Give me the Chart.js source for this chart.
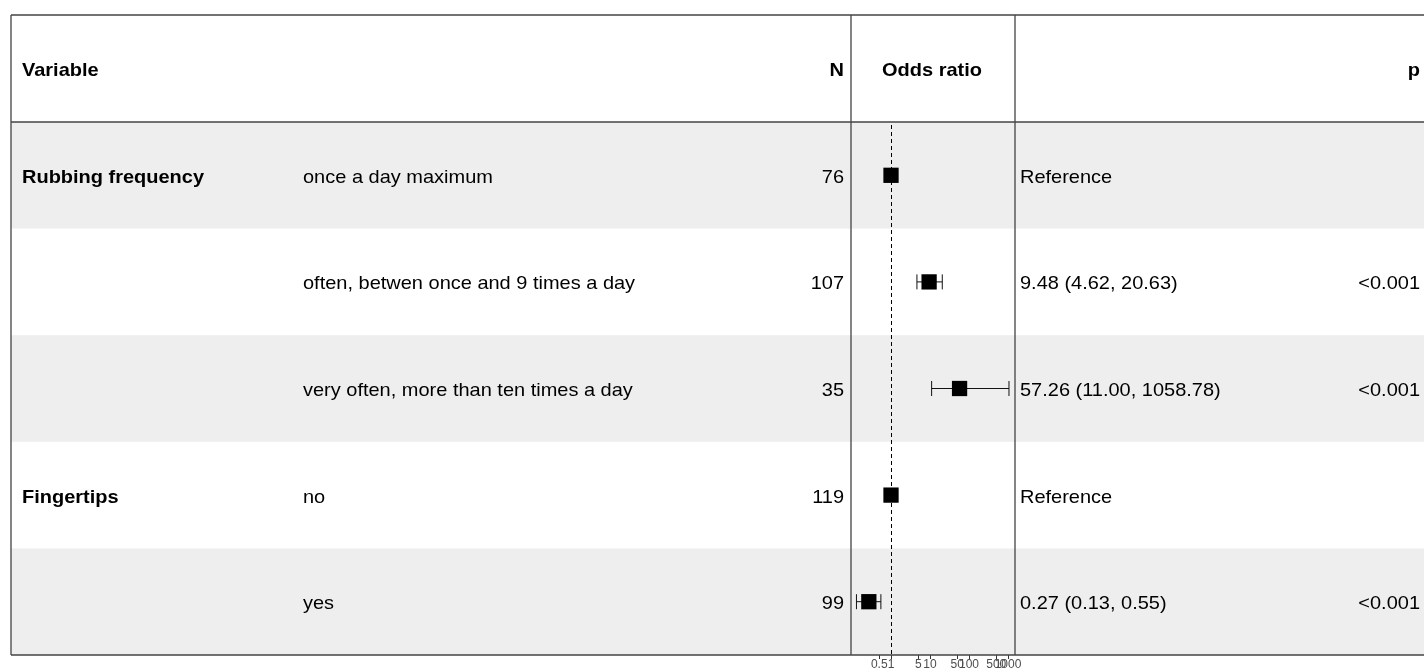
<!doctype html>
<html>
<head>
	<title>Odds ratio table</title>
	<script src="https://cdn.jsdelivr.net/npm/chart.js@4.4.1/dist/chart.umd.min.js"></script>
	<style>
		body { margin: 0; background: #fff; }
		canvas { display: block; }
	</style>
</head>
<body>
	<canvas id="canvas" width="1424" height="671"></canvas>
	<script>
		// table rows
		var variables = ['Rubbing frequency', '', '', 'Fingertips', ''];
		var levels = ['once a day maximum', 'often, betwen once and 9 times a day', 'very often, more than ten times a day', 'no', 'yes'];
		var counts = [76, 107, 35, 119, 99];
		var oddsRatio = [1, 9.48, 57.26, 1, 0.27];
		var lower = [null, 4.62, 11.00, null, 0.13];
		var upper = [null, 20.63, 1058.78, null, 0.55];
		var orLabels = ['Reference', '9.48 (4.62, 20.63)', '57.26 (11.00, 1058.78)', 'Reference', '0.27 (0.13, 0.55)'];
		var pValues = ['', '<0.001', '<0.001', '', '<0.001'];
		var tickValues = [0.5, 1, 5, 10, 50, 100, 500, 1000];

		var points = oddsRatio.map(function (v, i) { return { x: v, y: i + 1 }; });

		function txt(ctx, s, x, y, align, bold) {
			ctx.save();
			ctx.font = (bold ? 'bold ' : '') + '18.5px "Liberation Sans", Arial, sans-serif';
			ctx.fillStyle = '#000';
			ctx.textAlign = align;
			ctx.textBaseline = 'middle';
			ctx.translate(x, y);
			ctx.scale(1.08, 1);
			ctx.fillText(s, 0, 0);
			ctx.restore();
		}

		var tablePlugin = {
			id: 'table',
			beforeDraw: function (chart) {
				var ctx = chart.ctx, area = chart.chartArea, ys = chart.scales.y;
				ctx.save();
				ctx.fillStyle = '#fff';
				ctx.fillRect(0, 0, chart.width, chart.height);
				// striped rows
				for (var i = 0; i < levels.length; i++) {
					if (i % 2 == 0) {
						var top = ys.getPixelForValue(i + 0.5), bot = ys.getPixelForValue(i + 1.5);
						ctx.fillStyle = '#eeeeee';
						ctx.fillRect(11, top, chart.width - 11, bot - top);
					}
				}
				ctx.restore();

				var hy = (15 + area.top) / 2 + 2;
				txt(ctx, 'Variable', 22, hy, 'left', true);
				txt(ctx, 'N', area.left - 7, hy, 'right', true);
				txt(ctx, 'Odds ratio', (area.left + area.right) / 2 - 1, hy, 'center', true);
				txt(ctx, 'p', 1420, hy, 'right', true);

				for (var i = 0; i < levels.length; i++) {
					var y = ys.getPixelForValue(i + 1) + 2.5;
					if (variables[i]) txt(ctx, variables[i], 22, y, 'left', true);
					txt(ctx, levels[i], 303, y, 'left', false);
					txt(ctx, String(counts[i]), area.left - 7, y, 'right', false);
					txt(ctx, orLabels[i], area.right + 5, y, 'left', false);
					if (pValues[i]) txt(ctx, pValues[i], 1420, y, 'right', false);
				}
			},
			beforeDatasetsDraw: function (chart) {
				var ctx = chart.ctx, area = chart.chartArea, xs = chart.scales.x, ys = chart.scales.y;
				ctx.save();
				// reference line at OR = 1
				var x1 = Math.round(xs.getPixelForValue(1)) + 0.5;
				ctx.strokeStyle = '#000';
				ctx.lineWidth = 1;
				ctx.setLineDash([4, 3]);
				ctx.beginPath();
				ctx.moveTo(x1, area.top + 3);
				ctx.lineTo(x1, area.bottom);
				ctx.stroke();
				ctx.setLineDash([]);
				// confidence intervals
				ctx.strokeStyle = '#111';
				for (var i = 0; i < levels.length; i++) {
					if (lower[i] == null) continue;
					var y = ys.getPixelForValue(i + 1);
					var a = xs.getPixelForValue(lower[i]), b = xs.getPixelForValue(upper[i]);
					ctx.beginPath();
					ctx.moveTo(a, y); ctx.lineTo(b, y);
					ctx.moveTo(a, y - 7.5); ctx.lineTo(a, y + 7.5);
					ctx.moveTo(b, y - 7.5); ctx.lineTo(b, y + 7.5);
					ctx.stroke();
				}
				ctx.restore();
			},
			afterDraw: function (chart) {
				var ctx = chart.ctx, area = chart.chartArea;
				ctx.save();
				ctx.strokeStyle = '#444';
				ctx.lineWidth = 1.3;
				ctx.beginPath();
				ctx.moveTo(11, 15); ctx.lineTo(chart.width, 15);
				ctx.moveTo(11, area.top); ctx.lineTo(chart.width, area.top);
				ctx.moveTo(11, area.bottom); ctx.lineTo(chart.width, area.bottom);
				ctx.moveTo(11, 15); ctx.lineTo(11, area.bottom);
				ctx.moveTo(area.left, 15); ctx.lineTo(area.left, area.bottom);
				ctx.moveTo(area.right, 15); ctx.lineTo(area.right, area.bottom);
				ctx.stroke();
				ctx.restore();
			}
		};

		var ctx = document.getElementById('canvas').getContext('2d');
		window.forest = new Chart(ctx, {
			type: 'scatter',
			data: {
				datasets: [{
					data: points,
					pointStyle: 'rect',
					pointRadius: 10.8,
					pointHoverRadius: 10.8,
					backgroundColor: '#000',
					borderWidth: 0
				}]
			},
			options: {
				responsive: false,
				animation: false,
				events: [],
				layout: { padding: { left: 851, right: 409, top: 122, bottom: 0 } },
				plugins: { legend: { display: false }, tooltip: { enabled: false } },
				scales: {
					x: {
						type: 'logarithmic',
						min: 0.0942,
						max: 1511,
						afterBuildTicks: function (scale) {
							scale.ticks = tickValues.map(function (v) { return { value: v }; });
						},
						ticks: {
							autoSkip: false,
							maxRotation: 0,
							padding: 0,
							color: '#4d4d4d',
							font: { family: 'Liberation Sans', size: 12, lineHeight: 1 },
							callback: function (v) { return String(v); }
						},
						grid: { drawOnChartArea: false, tickLength: 4, color: '#333' },
						border: { display: false }
					},
					y: {
						type: 'linear',
						reverse: true,
						min: 0.5,
						max: 5.5,
						display: false
					}
				}
			},
			plugins: [tablePlugin]
		});
	</script>
</body>
</html>
